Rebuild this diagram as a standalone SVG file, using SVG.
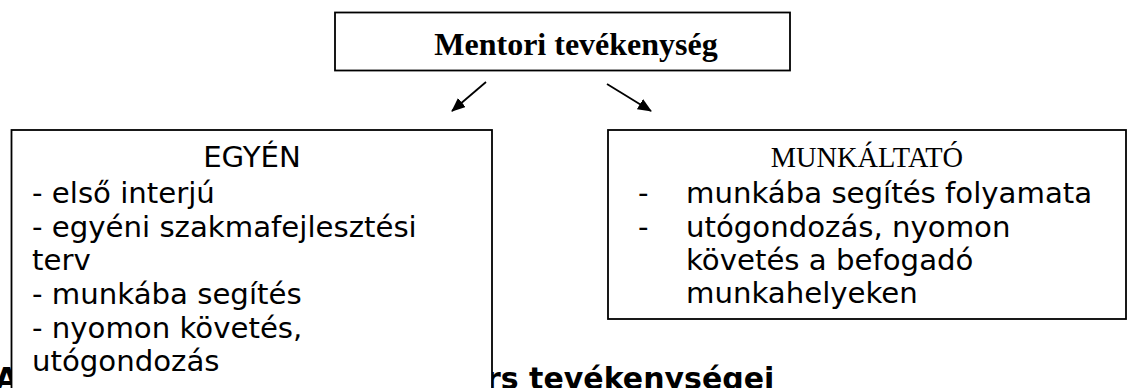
<svg xmlns="http://www.w3.org/2000/svg" width="1128" height="388" viewBox="0 0 1128 388">
  <style>
    .box { fill: #fff; stroke: #000; stroke-width: 1.8; }
    .sans { font-family: "DejaVu Sans", Verdana, sans-serif; font-size: 29.2px; fill: #000; }
    .serif { font-family: "Liberation Serif", "Times New Roman", serif; fill: #000; }
    .head { font-family: "DejaVu Sans", Verdana, sans-serif; font-weight: bold; font-size: 30px; fill: #000; }
    .conn { stroke: #000; stroke-width: 1.8; fill: none; marker-end: url(#arrow); }
  </style>
  <defs>
    <marker id="arrow" viewBox="0 0 14 12" refX="13" refY="6" markerWidth="14" markerHeight="12" markerUnits="userSpaceOnUse" orient="auto">
      <path d="M0,0 L14,6 L0,12 z" fill="#000"/>
    </marker>
  </defs>

  <!-- section heading, partly covered by the boxes -->
  <g id="heading">
    <text class="head" x="-5" y="389">A</text>
    <text class="head" x="486" y="389">rs tevékenységei</text>
  </g>

  <!-- connectors -->
  <g id="connectors">
    <path class="conn" d="M486,82 L452,111"/>
    <path class="conn" d="M607,84 L651,111"/>
  </g>

  <g id="node-mentori">
    <rect class="box" x="335" y="12.5" width="455" height="58"/>
    <text class="serif" x="576" y="55" font-size="32" font-weight="bold" text-anchor="middle">Mentori tevékenység</text>
  </g>

  <g id="node-egyen">
    <rect class="box" x="11.5" y="130" width="480.5" height="270"/>
    <text class="sans" x="252" y="167" text-anchor="middle">EGYÉN</text>
    <text class="sans" x="32" y="203">- első interjú</text>
    <text class="sans" x="32" y="236.5">- egyéni szakmafejlesztési</text>
    <text class="sans" x="32" y="270">terv</text>
    <text class="sans" x="32" y="304">- munkába segítés</text>
    <text class="sans" x="32" y="337.5">- nyomon követés,</text>
    <text class="sans" x="32" y="371">utógondozás</text>
  </g>

  <g id="node-munkaltato">
    <rect class="box" x="608" y="130" width="518" height="189"/>
    <text class="serif" x="867" y="167" font-size="28.4" text-anchor="middle">MUNKÁLTATÓ</text>
    <text class="sans" x="638" y="203">-</text>
    <text class="sans" x="686" y="203">munkába segítés folyamata</text>
    <text class="sans" x="638" y="237">-</text>
    <text class="sans" x="686" y="237">utógondozás, nyomon</text>
    <text class="sans" x="686" y="270">követés a befogadó</text>
    <text class="sans" x="686" y="303">munkahelyeken</text>
  </g>
</svg>
